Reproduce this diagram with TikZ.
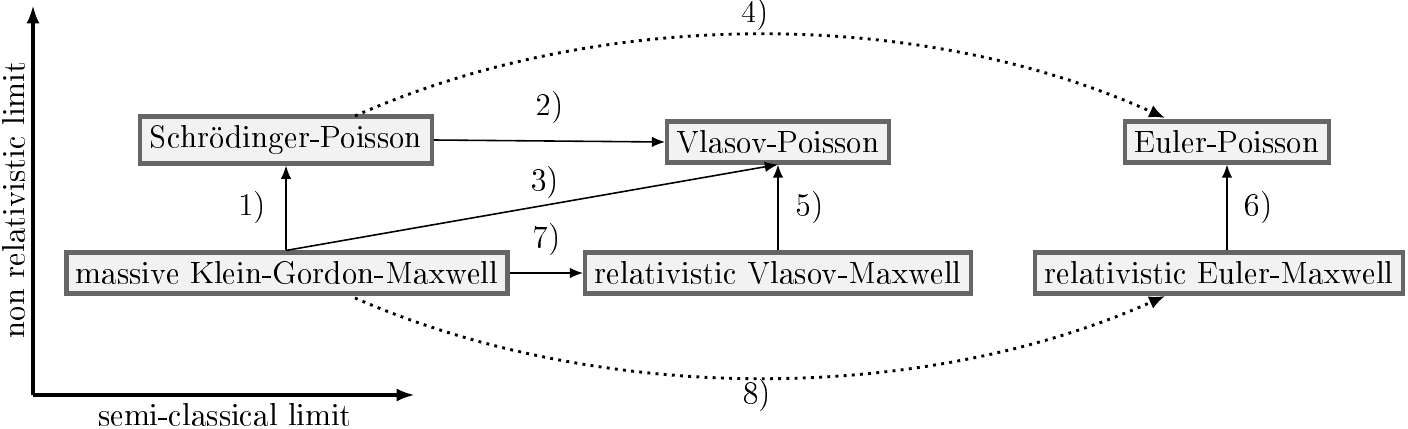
\documentclass[tikz,border=0pt]{standalone}
\usepackage[T1]{fontenc}
\usetikzlibrary{arrows.meta}
\begin{document}
\begin{tikzpicture}[x=0.0133cm,y=-0.0133cm,
  box/.style={draw=black!60,fill=black!5,line width=1.6pt,inner sep=3.6pt,font=\large},
  arr/.style={-{Latex[length=5pt,width=4pt]},semithick},
  dot/.style={-{Latex[length=6pt,width=5pt]},line width=1.1pt,dotted},
  lab/.style={font=\large}]
\useasboundingbox (0,0) rectangle (1408,429);
\coordinate (o) at (33,395);
\coordinate (ya) at (33,5);
\coordinate (xa) at (415,395);
\draw[-{Latex[length=7pt,width=5pt]},line width=1.4pt] (o) -- (ya);
\draw[-{Latex[length=7pt,width=5pt]},line width=1.4pt] (o) -- (xa);
\node[lab,rotate=90] (yl) at (14,200) {non relativistic limit};
\node[lab] (xl) at (225,415) {semi-classical limit};
\node[box] (sp) at (286,140) {Schrödinger-Poisson};
\node[box] (vp) at (778,142) {Vlasov-Poisson};
\node[box] (ep) at (1227,142) {Euler-Poisson};
\node[box] (kgm) at (287,273) {massive Klein-Gordon-Maxwell};
\node[box] (rvm) at (778,273) {relativistic Vlasov-Maxwell};
\node[box] (rem) at (1219,273) {relativistic Euler-Maxwell};
\draw[arr] (kgm.north -| sp.south) -- (sp.south) node[lab,midway,left=4pt] {1)};
\draw[arr] (sp.east) -- (vp.west) node[lab,midway,above=3pt] {2)};
\draw[arr] (kgm.north -| sp.south) -- (vp.south);
\node[lab] (l3) at (545,183) {3)};
\draw[arr] (rvm.north) -- (vp.south) node[lab,midway,right=3pt] {5)};
\draw[arr] (rem.north -| ep.south) -- (ep.south) node[lab,midway,right=3pt] {6)};
\draw[arr] (kgm.east) -- (rvm.west) node[lab,midway,above=3pt] {7)};
\coordinate (a4) at (355,116);
\coordinate (b4) at (1165,118);
\coordinate (a8) at (355,298);
\coordinate (b8) at (1165,296);
\draw[dot] (a4) .. controls (600,7) and (920,7) .. (b4);
\node[lab] (l4) at (755,15) {4)};
\draw[dot] (a8) .. controls (600,405) and (920,405) .. (b8);
\node[lab] (l8) at (757,396) {8)};
\end{tikzpicture}
\end{document}
